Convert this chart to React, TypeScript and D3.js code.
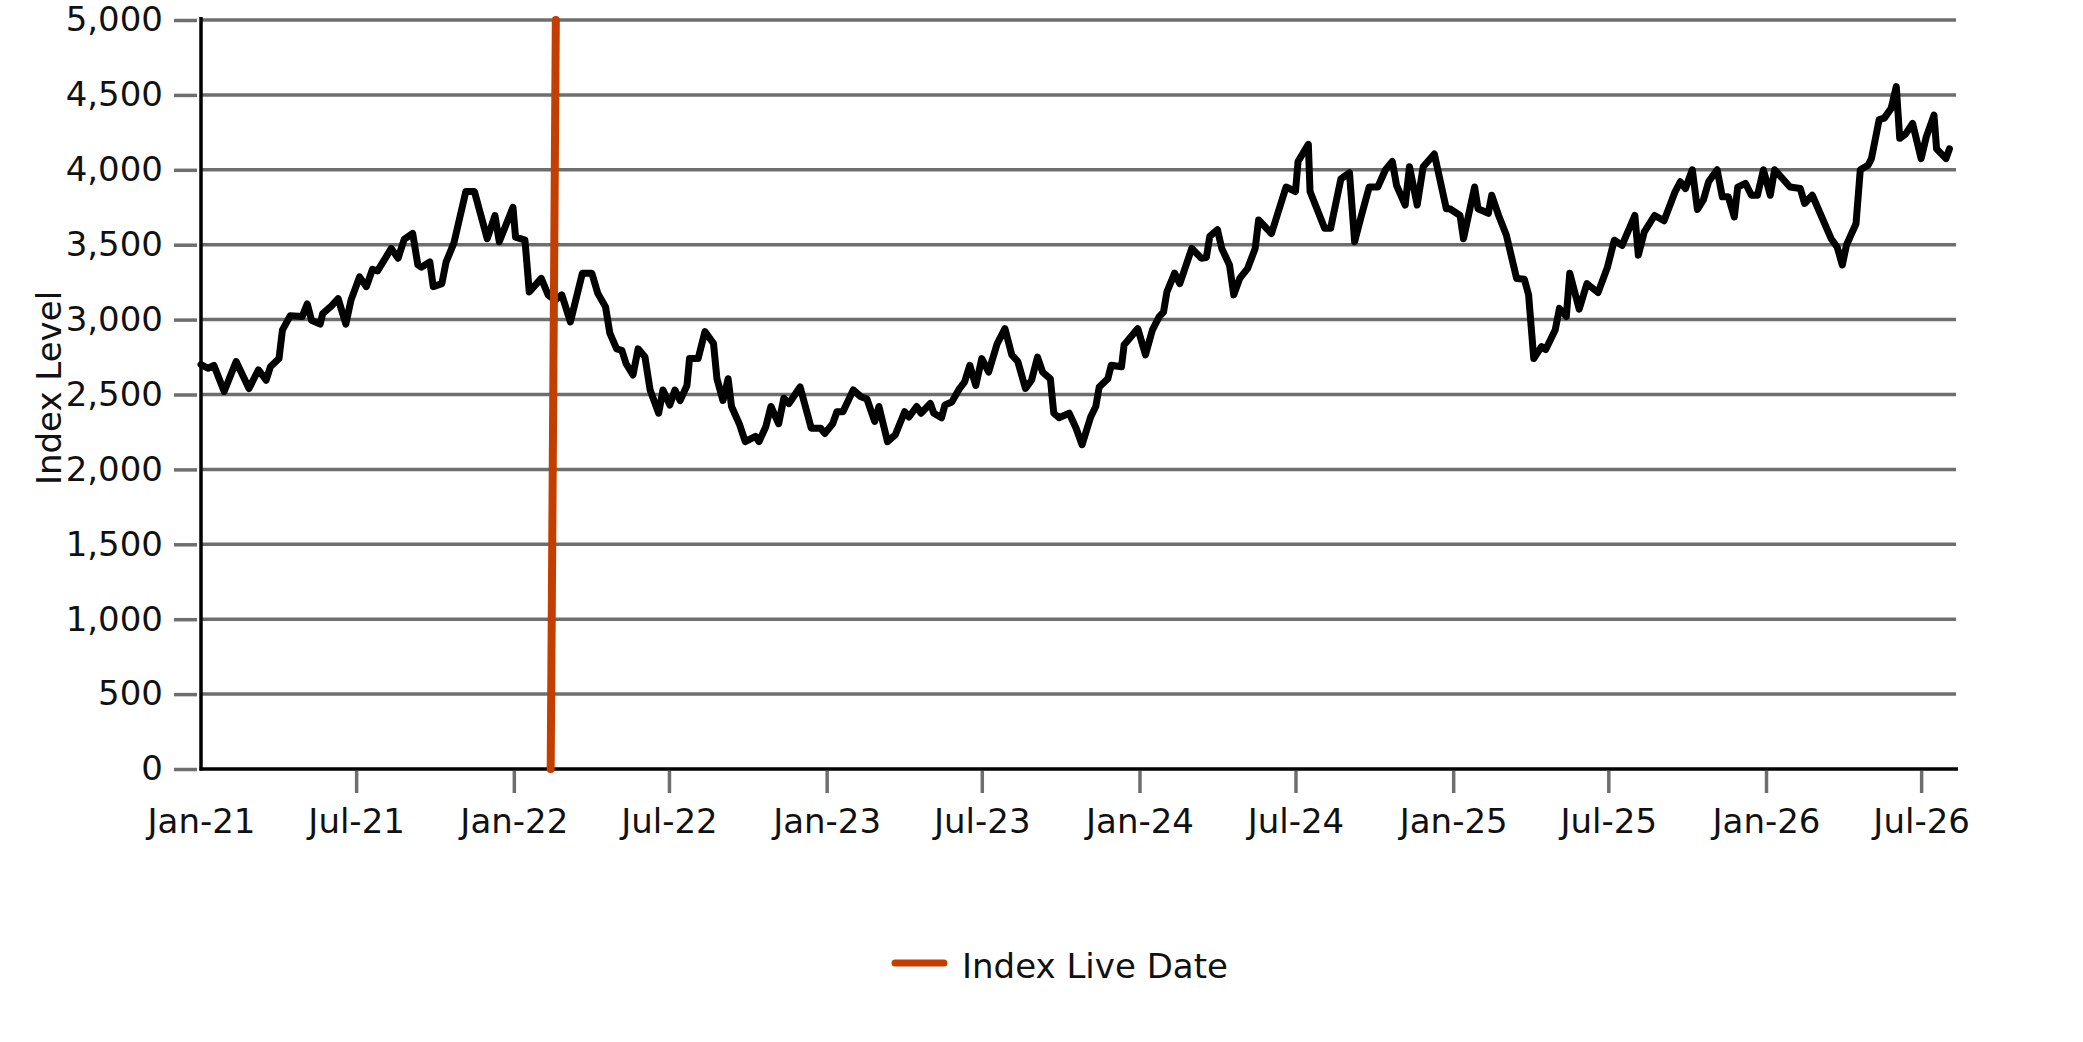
import { useEffect, useRef } from "react";
import * as d3 from "d3";

// index level readings (turning points of the series)
const dates = [
  "2021-01-01", "2021-01-09", "2021-01-16", "2021-01-28", "2021-02-11", "2021-02-26", "2021-03-09", "2021-03-18",
  "2021-03-23", "2021-04-02", "2021-04-06", "2021-04-15", "2021-04-29", "2021-05-05", "2021-05-10", "2021-05-20",
  "2021-05-23", "2021-06-02", "2021-06-10", "2021-06-19", "2021-06-25", "2021-07-05", "2021-07-13", "2021-07-20",
  "2021-07-26", "2021-08-11", "2021-08-19", "2021-08-26", "2021-09-05", "2021-09-11", "2021-09-15", "2021-09-25",
  "2021-09-29", "2021-10-09", "2021-10-14", "2021-10-23", "2021-11-06", "2021-11-16", "2021-12-01", "2021-12-10",
  "2021-12-15", "2021-12-31", "2022-01-03", "2022-01-14", "2022-01-19", "2022-02-02", "2022-02-10", "2022-02-18",
  "2022-02-26", "2022-03-08", "2022-03-22", "2022-04-02", "2022-04-09", "2022-04-18", "2022-04-23", "2022-05-01",
  "2022-05-07", "2022-05-12", "2022-05-20", "2022-05-26", "2022-06-03", "2022-06-09", "2022-06-19", "2022-06-24",
  "2022-07-02", "2022-07-08", "2022-07-14", "2022-07-22", "2022-07-25", "2022-08-04", "2022-08-12", "2022-08-22",
  "2022-08-26", "2022-09-02", "2022-09-08", "2022-09-12", "2022-09-21", "2022-09-28", "2022-10-10", "2022-10-14",
  "2022-10-22", "2022-10-28", "2022-11-06", "2022-11-12", "2022-11-18", "2022-12-01", "2022-12-14", "2022-12-25",
  "2022-12-30", "2023-01-08", "2023-01-13", "2023-01-20", "2023-02-01", "2023-02-10", "2023-02-17", "2023-02-26",
  "2023-03-03", "2023-03-13", "2023-03-22", "2023-04-02", "2023-04-07", "2023-04-16", "2023-04-21", "2023-05-02",
  "2023-05-06", "2023-05-15", "2023-05-19", "2023-05-27", "2023-06-05", "2023-06-11", "2023-06-17", "2023-06-24",
  "2023-07-01", "2023-07-09", "2023-07-19", "2023-07-28", "2023-08-05", "2023-08-12", "2023-08-21", "2023-08-28",
  "2023-09-04", "2023-09-10", "2023-09-19", "2023-09-23", "2023-09-29", "2023-10-11", "2023-10-19", "2023-10-26",
  "2023-11-05", "2023-11-11", "2023-11-15", "2023-11-25", "2023-11-29", "2023-12-11", "2023-12-14", "2023-12-30",
  "2024-01-08", "2024-01-16", "2024-01-24", "2024-01-29", "2024-02-02", "2024-02-11", "2024-02-17", "2024-03-02",
  "2024-03-13", "2024-03-19", "2024-03-23", "2024-04-01", "2024-04-06", "2024-04-15", "2024-04-20", "2024-04-27",
  "2024-05-06", "2024-05-15", "2024-05-19", "2024-06-03", "2024-06-20", "2024-07-01", "2024-07-04", "2024-07-16",
  "2024-07-18", "2024-08-04", "2024-08-11", "2024-08-23", "2024-09-02", "2024-09-08", "2024-09-16", "2024-09-25",
  "2024-10-05", "2024-10-14", "2024-10-22", "2024-10-27", "2024-11-06", "2024-11-11", "2024-11-20", "2024-11-27",
  "2024-12-10", "2024-12-24", "2024-12-28", "2025-01-09", "2025-01-13", "2025-01-26", "2025-01-30", "2025-02-11",
  "2025-02-15", "2025-02-23", "2025-03-04", "2025-03-16", "2025-03-25", "2025-03-30", "2025-04-05", "2025-04-14",
  "2025-04-19", "2025-04-30", "2025-05-05", "2025-05-13", "2025-05-17", "2025-05-28", "2025-06-06", "2025-06-19",
  "2025-06-30", "2025-07-08", "2025-07-17", "2025-08-01", "2025-08-05", "2025-08-12", "2025-08-24", "2025-09-04",
  "2025-09-17", "2025-09-23", "2025-09-29", "2025-10-07", "2025-10-13", "2025-10-20", "2025-10-26", "2025-11-05",
  "2025-11-11", "2025-11-18", "2025-11-25", "2025-11-29", "2025-12-08", "2025-12-15", "2025-12-22", "2025-12-29",
  "2026-01-06", "2026-01-11", "2026-01-29", "2026-02-10", "2026-02-15", "2026-02-24", "2026-03-18", "2026-03-25",
  "2026-03-31", "2026-04-05", "2026-04-16", "2026-04-21", "2026-04-30", "2026-05-04", "2026-05-13", "2026-05-19",
  "2026-05-27", "2026-06-02", "2026-06-06", "2026-06-13", "2026-06-21", "2026-07-01", "2026-07-07", "2026-07-16",
  "2026-07-19", "2026-07-30", "2026-08-03",
];

const values = [
  2700, 2675, 2695, 2520, 2720, 2540, 2665, 2595,
  2685, 2740, 2930, 3025, 3020, 3105, 2995, 2970,
  3040, 3090, 3140, 2970, 3130, 3285, 3220, 3335,
  3325, 3475, 3410, 3535, 3575, 3365, 3350, 3385,
  3220, 3240, 3385, 3510, 3855, 3855, 3540, 3695,
  3520, 3750, 3550, 3530, 3185, 3275, 3165, 3130,
  3165, 2985, 3310, 3310, 3175, 3085, 2910, 2805,
  2795, 2705, 2630, 2805, 2750, 2530, 2375, 2530,
  2430, 2530, 2460, 2560, 2740, 2740, 2920, 2840,
  2605, 2460, 2605, 2420, 2305, 2185, 2220, 2185,
  2285, 2420, 2305, 2475, 2440, 2550, 2275, 2275,
  2240, 2305, 2385, 2385, 2530, 2485, 2470, 2320,
  2420, 2185, 2230, 2385, 2350, 2420, 2375, 2440,
  2375, 2345, 2430, 2450, 2540, 2585, 2695, 2560,
  2740, 2650, 2840, 2940, 2765, 2720, 2540, 2595,
  2750, 2650, 2605, 2375, 2345, 2375, 2275, 2165,
  2350, 2420, 2550, 2605, 2695, 2685, 2830, 2940,
  2765, 2930, 3020, 3050, 3185, 3310, 3240, 3475,
  3410, 3415, 3555, 3600, 3475, 3365, 3165, 3275,
  3340, 3475, 3665, 3575, 3885, 3855, 4055, 4170,
  3855, 3610, 3610, 3940, 3980, 3520, 3695, 3885,
  3885, 4000, 4055, 3895, 3765, 4020, 3765, 4020,
  4105, 3740, 3740, 3695, 3540, 3885, 3740, 3710,
  3830, 3695, 3565, 3275, 3270, 3165, 2740, 2820,
  2800, 2930, 3075, 3020, 3310, 3070, 3240, 3180,
  3350, 3530, 3495, 3695, 3430, 3585, 3695, 3660,
  3855, 3920, 3875, 4000, 3735, 3800, 3920, 4000,
  3820, 3820, 3685, 3885, 3910, 3830, 3830, 4000,
  3830, 4000, 3885, 3875, 3775, 3830, 3540, 3485,
  3365, 3500, 3640, 4000, 4030, 4075, 4335, 4345,
  4410, 4555, 4210, 4240, 4310, 4075, 4220, 4365,
  4140, 4075, 4140,
];

// index live date marker
const liveDates = ["2022-02-13", "2022-02-19"];
const liveValues = [0, 5000];

const xTickDates = [
  "2021-01-01", "2021-07-01", "2022-01-01", "2022-07-01", "2023-01-01", "2023-07-01",
  "2024-01-01", "2024-07-01", "2025-01-01", "2025-07-01", "2026-01-01", "2026-07-01",
];
const yTicks = [0, 500, 1000, 1500, 2000, 2500, 3000, 3500, 4000, 4500, 5000];

const dims = {
  width: 2083,
  height: 1042,
  left: 201,
  right: 1958,
  top: 20,
  bottom: 769,
};

const FONT = "'DejaVu Sans', Verdana, sans-serif";
const GRID = "#6e6e6e";
const ORANGE = "#c43e00";

export default function App() {
  const ref = useRef(null);

  useEffect(() => {
    const parse = d3.timeParse("%Y-%m-%d");
    const svg = d3.select(ref.current);
    svg.selectAll("*").remove();

    const x = d3
      .scaleTime()
      .domain([parse("2021-01-01"), parse("2026-08-13")])
      .range([dims.left, dims.right]);
    const y = d3.scaleLinear().domain([0, 5000]).range([dims.bottom, dims.top]);

    const series = dates.map((d, i) => ({ date: parse(d), value: values[i] }));
    const live = liveDates.map((d, i) => ({ date: parse(d), value: liveValues[i] }));

    // gridlines
    svg
      .append("g")
      .selectAll("line")
      .data(yTicks.filter((t) => t > 0))
      .enter()
      .append("line")
      .attr("x1", dims.left)
      .attr("x2", dims.right - 2)
      .attr("y1", (d) => y(d))
      .attr("y2", (d) => y(d))
      .attr("stroke", GRID)
      .attr("stroke-width", 3.5);

    // y axis
    const yAxis = svg
      .append("g")
      .attr("transform", `translate(${dims.left - 1},0)`)
      .call(
        d3
          .axisLeft(y)
          .tickValues(yTicks)
          .tickSize(26)
          .tickPadding(11)
          .tickFormat(d3.format(","))
      );
    yAxis.select(".domain").remove();
    yAxis.selectAll(".tick line").attr("stroke", GRID).attr("stroke-width", 3.5).attr("x2", -26).attr("x1", -3);
    yAxis
      .selectAll(".tick text")
      .attr("fill", "#111")
      .style("font-family", FONT)
      .style("font-size", "34px");

    // x axis
    const xAxis = svg
      .append("g")
      .attr("transform", `translate(0,${dims.bottom})`)
      .call(
        d3
          .axisBottom(x)
          .tickValues(xTickDates.map(parse))
          .tickSize(24)
          .tickPadding(16)
          .tickFormat(d3.timeFormat("%b-%y"))
      );
    xAxis.select(".domain").remove();
    xAxis
      .selectAll(".tick line")
      .attr("stroke", GRID)
      .attr("stroke-width", 3.5)
      .attr("y1", 2)
      .attr("display", (_, i) => (i === 0 ? "none" : null));
    xAxis
      .selectAll(".tick text")
      .attr("fill", "#111")
      .style("font-family", FONT)
      .style("font-size", "34px");

    // axis lines
    svg
      .append("line")
      .attr("x1", dims.left)
      .attr("x2", dims.left)
      .attr("y1", dims.top - 3)
      .attr("y2", dims.bottom + 1.5)
      .attr("stroke", "#000")
      .attr("stroke-width", 3.5);
    svg
      .append("line")
      .attr("x1", dims.left - 1.5)
      .attr("x2", dims.right)
      .attr("y1", dims.bottom)
      .attr("y2", dims.bottom)
      .attr("stroke", "#000")
      .attr("stroke-width", 3.5);

    const line = d3
      .line()
      .x((d) => x(d.date))
      .y((d) => y(d.value));

    svg
      .append("path")
      .datum(series)
      .attr("d", line)
      .attr("fill", "none")
      .attr("stroke", "#000")
      .attr("stroke-width", 7)
      .attr("stroke-linejoin", "round")
      .attr("stroke-linecap", "round");

    svg
      .append("path")
      .datum(live)
      .attr("d", line)
      .attr("fill", "none")
      .attr("stroke", ORANGE)
      .attr("stroke-width", 8)
      .attr("stroke-linecap", "round");

    // axis title
    svg
      .append("text")
      .attr("transform", `translate(49,388) rotate(-90)`)
      .attr("text-anchor", "middle")
      .attr("dominant-baseline", "central")
      .attr("fill", "#111")
      .style("font-family", FONT)
      .style("font-size", "34px")
      .text("Index Level");

    // legend
    const legend = svg.append("g");
    legend
      .append("line")
      .attr("x1", 895)
      .attr("x2", 944)
      .attr("y1", 963)
      .attr("y2", 963)
      .attr("stroke", ORANGE)
      .attr("stroke-width", 7)
      .attr("stroke-linecap", "round");
    legend
      .append("text")
      .attr("x", 962)
      .attr("y", 966)
      .attr("dominant-baseline", "central")
      .attr("fill", "#111")
      .style("font-family", FONT)
      .style("font-size", "34px")
      .text("Index Live Date");
  }, []);

  return (
    <svg
      ref={ref}
      width={dims.width}
      height={dims.height}
      style={{ position: "absolute", left: 0, top: 0, background: "#fff" }}
    ></svg>
  );
}
